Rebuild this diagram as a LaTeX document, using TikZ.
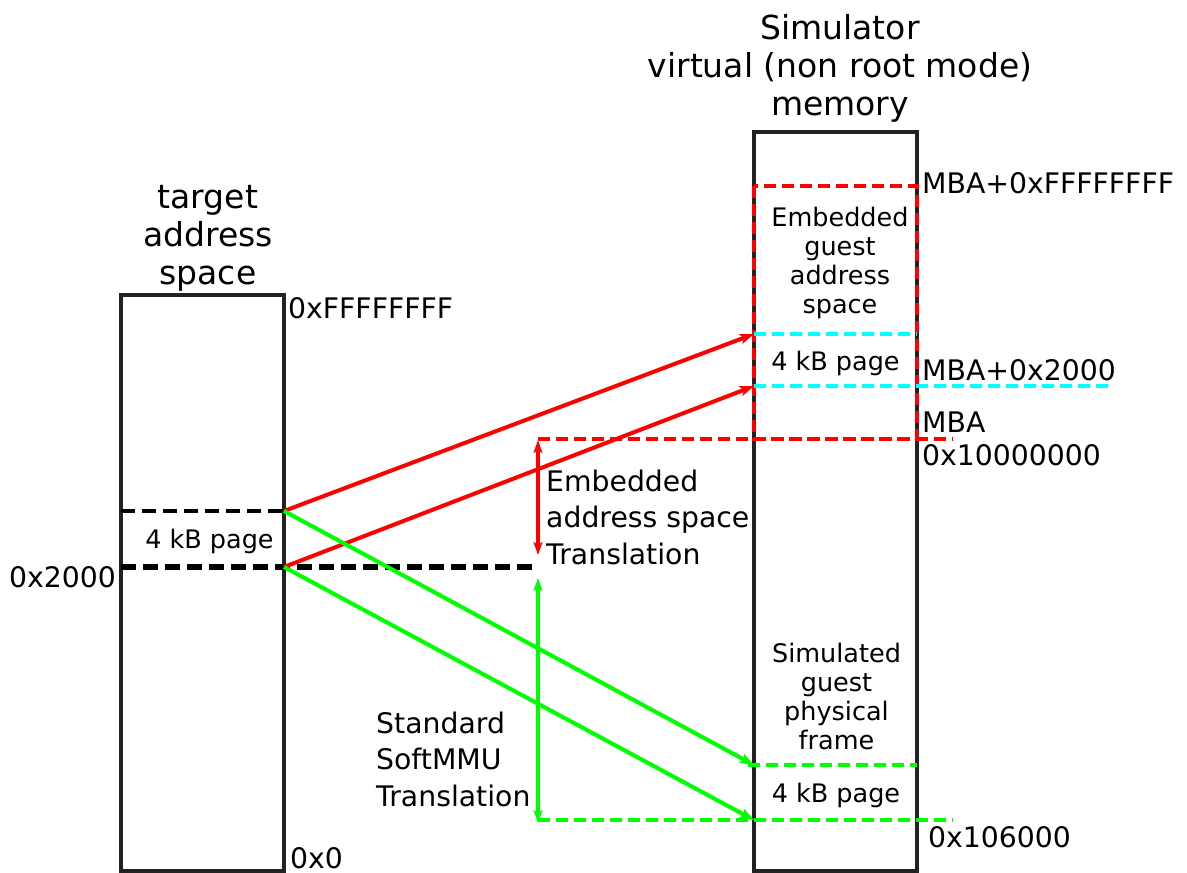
\documentclass[tikz,border=0pt]{standalone}
\usepackage{fontspec}
\setmainfont{DejaVu Sans}
\usetikzlibrary{arrows.meta}

\definecolor{framegray}{RGB}{34,34,34}
\definecolor{mapred}{RGB}{255,0,0}
\definecolor{mapgreen}{RGB}{0,255,0}
\definecolor{mapcyan}{RGB}{0,255,255}

\tikzset{
  membox/.style={draw=framegray, line width=3.5pt, inner sep=0pt, outer sep=0pt, minimum width=163pt},
  addr/.style={inner sep=0pt, font=\fontsize{28.3}{35.5}\selectfont},
  note/.style={inner sep=0pt, align=left, font=\fontsize{28.3}{36.5}\selectfont},
  inbox/.style={inner sep=0pt, align=center, font=\fontsize{25.5}{29}\selectfont},
  heading/.style={inner sep=0pt, align=center, font=\fontsize{33}{38}\selectfont},
  pagedash/.style={line width=3.5pt, dash pattern=on 14pt off 7pt},
  regiondash/.style={line width=4pt, dash pattern=on 12pt off 6pt},
  maparrow/.style={line width=4pt, -{Stealth[length=14pt,width=10pt,inset=3pt]}},
  spanarrow/.style={line width=3.5pt, {Stealth[length=13pt,width=9pt,inset=3pt]}-{Stealth[length=13pt,width=9pt,inset=3pt]}}
}

\begin{document}
\begin{tikzpicture}[x=1pt,y=-1pt]
\useasboundingbox (0,0) rectangle (1187,873);

% the two memory columns
\node (target) [membox, minimum height=576pt, anchor=north west] at (121,295) {};
\node (sim) [membox, minimum height=739pt, anchor=north west] at (754,132) {};

% column headings
\node (targethead) [heading, anchor=north] at (208,185.5) {target\\address\\space};
\node (simhead) [heading, anchor=north] at (840,14.5) {Simulator\\virtual (non root mode)\\memory};

% reference points on the target column
\coordinate (tpTop) at (284,511);
\coordinate (tpBot) at (284,567);
\coordinate (tpTopL) at (121,511);
\coordinate (tpBotL) at (121,567);
\coordinate (tpBotR) at (538,567);

% reference points on the simulator column
\coordinate (ePageTop) at (754,334);
\coordinate (ePageBot) at (754,386);
\coordinate (ePageTopR) at (917,334);
\coordinate (ePageBotR) at (1113,386);
\coordinate (gPageTop) at (754,765);
\coordinate (gPageBot) at (754,820);
\coordinate (gPageTopL) at (748,765);
\coordinate (gPageTopR) at (917,765);
\coordinate (gPageBotL) at (538,820);
\coordinate (gPageBotR) at (953,820);
\coordinate (embTL) at (754,186);
\coordinate (embBR) at (917,439);
\coordinate (embBotL) at (538,439);
\coordinate (embBotR) at (953,439);

% page in the target address space
\draw[pagedash, black] (tpTopL) -- (tpTop);
\draw[pagedash, black, line width=5.5pt, dash pattern=on 15pt off 7pt] (tpBotL) -- (tpBotR);

% embedded guest address space region
\draw[regiondash, mapred] (embTL) rectangle (embBR);
\draw[regiondash, mapred] (embBotL) -- (embBotR);
\draw[regiondash, mapcyan] (ePageTop) -- (ePageTopR);
\draw[regiondash, mapcyan] (ePageBot) -- (ePageBotR);

% simulated guest physical frame
\draw[regiondash, mapgreen] (gPageTopL) -- (gPageTopR);
\draw[regiondash, mapgreen] (gPageBotL) -- (gPageBotR);

% translations
\draw[maparrow, mapred] (tpTop) -- (ePageTop);
\draw[maparrow, mapred] (tpBot) -- (ePageBot);
\draw[maparrow, mapgreen] (tpTop) -- (gPageTop);
\draw[maparrow, mapgreen] (tpBot) -- (gPageBot);

% offset spans
\coordinate (redSpanTop) at (538,440);
\coordinate (redSpanBot) at (538,555);
\coordinate (greenSpanTop) at (538,578);
\coordinate (greenSpanBot) at (538,823);
\draw[spanarrow, mapred] (redSpanTop) -- (redSpanBot);
\draw[spanarrow, mapgreen] (greenSpanTop) -- (greenSpanBot);

% address labels
\node (aTop) [addr, anchor=base west] at (288,318) {0xFFFFFFFF};
\node (a2000) [addr, anchor=base east] at (116,587) {0x2000};
\node (aZero) [addr, anchor=base west] at (290,868) {0x0};
\node (mbaTop) [addr, anchor=base west] at (922,193) {MBA+0xFFFFFFFF};
\node (mba2000) [addr, anchor=base west] at (922,380) {MBA+0x2000};
\node (mba) [addr, anchor=base west] at (922,432) {MBA};
\node (mbaVal) [addr, anchor=base west] at (922,465) {0x10000000};
\node (frameAddr) [addr, anchor=base west] at (928,847) {0x106000};

% region labels
\node (tPage) [inbox, anchor=base] at (209.5,548) {4 kB page};
\node (ePage) [inbox, anchor=base] at (835.5,370) {4 kB page};
\node (gPage) [inbox, anchor=base] at (836,802) {4 kB page};
\node (embText) [inbox, anchor=north] at (840,206.6) {Embedded\\guest\\address\\space};
\node (physText) [inbox, anchor=north] at (836.5,642.6) {Simulated\\guest\\physical\\frame};

% translation notes
\node (embNote) [note, anchor=north west] at (546,469.5) {Embedded\\address space\\Translation};
\node (mmuNote) [note, anchor=north west] at (376,711.5) {Standard\\SoftMMU\\Translation};
\end{tikzpicture}
\end{document}
